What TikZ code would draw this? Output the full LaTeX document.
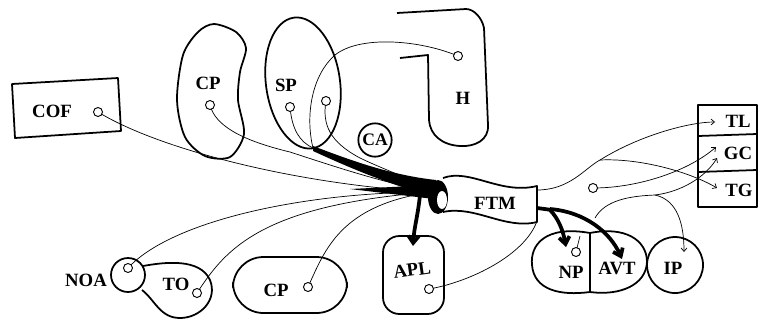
\documentclass[tikz,border=0pt]{standalone}
\usepackage{fontspec}
\setmainfont{Liberation Serif}
\usetikzlibrary{arrows.meta,positioning}

\tikzset{
  region/.style={line width=1.5pt, line join=round},
  fibre/.style={line width=0.6pt},
  tract/.style={line width=3.2pt},
  port/.style={circle, draw, line width=0.8pt, fill=white, inner sep=0pt, minimum size=0.27cm},
  lbl/.style={font=\fontsize{16}{18}\selectfont\bfseries},
  tip/.style={-{Straight Barb[length=3pt,width=5pt]}},
  bigtip/.style={-{Straight Barb[length=6pt,width=9pt]}},
}

\begin{document}
\begin{tikzpicture}[x=0.03cm, y=-0.03cm]
    \useasboundingbox (0,0) rectangle (762,325);

    % Regions
    \draw [region] (12,84) -- (118,78) -- (121,131) -- (15,138) -- cycle;
    \draw [region] plot [smooth cycle] coordinates {(214,24) (236,32) (246,48) (240,72) (238,100) (244,134) (230,157) (205,156) (185,137) (177,100) (183,55) (198,32)};
    \draw [region, rotate around={8:(303,83)}] (303,83) ellipse [x radius=37, y radius=66];
    \draw [region] (397,13) -- (466,9) .. controls (474,9) and (482,18) .. (484,28) -- (488,125)
        .. controls (489,140) and (475,147) .. (460,146) .. controls (442,145) and (430,135) .. (429,120)
        -- (428,55) -- (400,58);
    \node [circle, draw, region, inner sep=0pt, minimum size=1.0cm, font=\fontsize{15}{17}\selectfont\bfseries] (ca) at (375,140) {CA};

    % FTM
    \draw [region] (443,178) .. controls (470,168) and (500,195) .. (537,186) -- (537,222)
        .. controls (505,230) and (475,205) .. (443,212);
    \fill (438,197) ellipse [x radius=10, y radius=17];
    \fill [white] (442,200) ellipse [x radius=5, y radius=9];
    \node [lbl] (ftm) at (495,203) {FTM};

    % Lower regions
    \draw [region] (128,275) circle [radius=17];
    \draw [region] (143,266) .. controls (165,262) and (200,258) .. (210,280)
        .. controls (218,300) and (200,318) .. (180,318) .. controls (160,318) and (155,300) .. (142,290);
    \draw [region, rounded corners=26] (233,257) rectangle (347,313);
    \draw [region, rounded corners=14] (383,236) rectangle (444,314);
    \draw [region] (590,233) .. controls (545,225) and (530,245) .. (532,265)
        .. controls (534,290) and (560,296) .. (590,292) .. controls (620,296) and (646,285) .. (647,262)
        .. controls (647,240) and (625,226) .. (590,233) -- cycle;
    \draw [region] (590,233) -- (590,292);
    \draw [region] (675,265) circle [radius=28];
    \draw [region] (698,105) rectangle (757,207);
    \draw [region] (698,136) -- (757,134);
    \draw [region] (698,172) -- (757,170);

    % Labels
    \node [lbl] (lcof) at (52,111) {COF};
    \node [lbl] (lcpa) at (208,83) {CP};
    \node [lbl] (lsp) at (286,85) {SP};
    \node [lbl] (lh) at (463,98) {H};
    \node [lbl] (lnoa) at (86,280) {NOA};
    \node [lbl] (lto) at (176,284) {TO};
    \node [lbl] (lcpb) at (276,290) {CP};
    \node [lbl, rotate=8] (lapl) at (412,270) {APL};
    \node [lbl] (lnp) at (571,272) {NP};
    \node [lbl] (lavt) at (617,268) {AVT};
    \node [lbl] (lip) at (673,268) {IP};
    \node [lbl] (ltl) at (738,121) {TL};
    \node [lbl] (lgc) at (738,153) {GC};
    \node [lbl] (ltg) at (739,190) {TG};

    % Junctions
    \coordinate (hub) at (432,192);
    \coordinate (spj) at (313,148);
    \coordinate (ftmr) at (537,190);
    \coordinate (ftmb) at (537,221);
    \coordinate (rj) at (600,160);
    \coordinate (nptop) at (595,218);
    \coordinate (ipj) at (655,195);
    \coordinate (tl) at (715,122);
    \coordinate (gca) at (716,147);
    \coordinate (gcb) at (717,158);
    \coordinate (tg) at (717,188);
    \coordinate (ipin) at (684,252);

    % Fibres
    \draw [fibre] (98,112) .. controls (160,150) and (300,185) .. (hub);
    \draw [fibre] (210,105) .. controls (215,125) and (240,140) .. (290,152) .. controls (330,165) and (380,182) .. (hub);
    \draw [fibre] (290,107) .. controls (292,130) and (300,142) .. (spj);
    \draw [fibre] (458,56) .. controls (420,40) and (360,35) .. (335,55) .. controls (312,75) and (305,115) .. (spj);
    \draw [fibre] (326,101) .. controls (322,125) and (330,142) .. (360,158) .. controls (385,170) and (410,178) .. (hub);
    \draw [fibre] (128,268) .. controls (170,222) and (300,192) .. (hub);
    \draw [fibre] (197,293) .. controls (225,250) and (260,205) .. (hub);
    \draw [fibre] (308,287) .. controls (325,250) and (340,205) .. (hub);
    \draw [fibre] (429,289) .. controls (470,282) and (525,255) .. (ftmb);
    \draw [fibre] (ftmr) .. controls (570,190) and (585,168) .. (rj);
    \draw [fibre, tip] (rj) .. controls (640,135) and (690,122) .. (tl);
    \draw [fibre, tip] (rj) .. controls (640,158) and (690,172) .. (tg);
    \draw [fibre, tip] (593,188) .. controls (640,188) and (690,170) .. (gca);
    \draw [fibre] (nptop) .. controls (605,200) and (630,196) .. (ipj);
    \draw [fibre, tip] (ipj) .. controls (680,192) and (705,178) .. (gcb);
    \draw [fibre, tip] (ipj) .. controls (678,200) and (684,225) .. (ipin);

    % Tracts
    \fill (313,146) .. controls (350,160) and (390,175) .. (436,180) -- (436,197)
        .. controls (390,185) and (350,168) .. (313,151) -- cycle;
    \fill (350,189) -- (434,185) -- (434,199) -- cycle;
    \draw [tract, bigtip] (420,195) .. controls (418,215) and (414,228) .. (413,246);
    \draw [tract] (537,208) -- (552,210);
    \draw [tract, bigtip] (550,210) .. controls (558,218) and (563,230) .. (566,247);
    \draw [tract, bigtip] (550,209) .. controls (585,212) and (610,232) .. (622,259);
    \draw [fibre] (576,252) -- (580,236);

    % Ports
    \node [port] (pcof) at (98,112) {};
    \node [port] (pcpa) at (210,105) {};
    \node [port] (psp1) at (290,107) {};
    \node [port] (psp2) at (326,101) {};
    \node [port] (ph) at (458,56) {};
    \node [port] (pnoa) at (128,268) {};
    \node [port] (pto) at (197,293) {};
    \node [port] (pcpb) at (308,287) {};
    \node [port] (papl) at (429,289) {};
    \node [port] (pnp) at (576,252) {};
    \node [port] (pmid) at (593,188) {};

\end{tikzpicture}
\end{document}
